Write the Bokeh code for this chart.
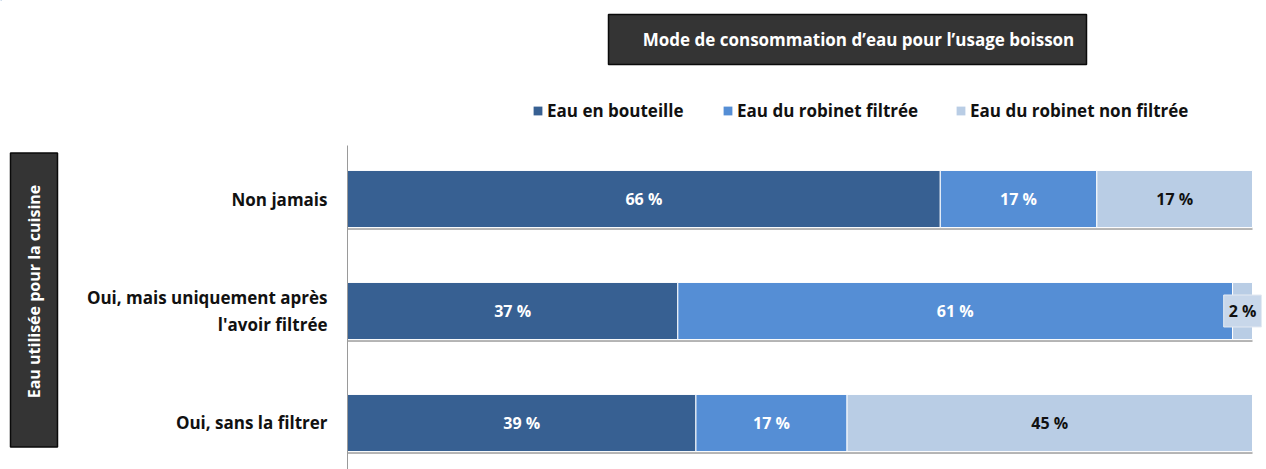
from bokeh.plotting import figure
from bokeh.layouts import column, row
from bokeh.models import (ColumnDataSource, Range1d, FixedTicker, LabelSet, Label,
                          Legend, LegendItem)
from bokeh.core.properties import value
from bokeh.embed import file_html
from bokeh.resources import INLINE
import math

# ---- data ----
categories = ["Non jamais", "Oui, mais uniquement après\nl'avoir filtrée", "Oui, sans la filtrer"]
series_names = ["Eau en bouteille", "Eau du robinet filtrée", "Eau du robinet non filtrée"]
bouteille = [65.5, 36.5, 38.5]
filtree = [17.3, 61.3, 16.7]
non_filtree = [17.2, 2.2, 44.8]
bouteille_lbl = ["66 %", "37 %", "39 %"]
filtree_lbl = ["17 %", "61 %", "17 %"]
non_filtree_lbl = ["17 %", "2 %", "45 %"]
title_text = "Mode de consommation d\u2019eau pour l\u2019usage boisson"
side_text = "Eau utilisée pour la cuisine"

colors = ["#376092", "#558ED5", "#B9CDE5"]
label_colors = ["white", "white", "#111111"]
FONT = "Open Sans"
BOX = "#343434"

ypos = [3, 2, 1]

W, H = 1266, 469
TOP_H = 125
LEFT_W = 70

# ---------------- top strip: title box + legend ----------------
top = figure(width=W, height=TOP_H, output_backend="svg", toolbar_location=None,
             x_range=Range1d(0, W), y_range=Range1d(TOP_H, 0),
             x_axis_location=None, y_axis_location=None,
             min_border=0, min_border_left=0, min_border_right=0,
             min_border_top=0, min_border_bottom=0)
top.outline_line_color = None
top.xgrid.visible = False
top.ygrid.visible = False
top.quad(left=[608], right=[1086], top=[14], bottom=[64],
         fill_color=BOX, line_color="#0A0A0A", line_width=1.5)
top.text(x=[858], y=[39], text=[title_text], text_align="center", text_baseline="middle",
         text_color="white", text_font=value(FONT), text_font_style="bold",
         text_font_size="17px")

# legend-only glyphs (placed outside the visible range)
dummy = []
for i in range(3):
    dummy.append(top.hbar(y=[-1000], left=[0], right=[1], height=1, fill_color=colors[i],
                          line_color=None))
for i, (x0, name) in enumerate(zip([532, 722, 955], series_names)):
    lg = Legend(items=[LegendItem(label=name, renderers=[dummy[i]])],
                location=(x0, 3), orientation="horizontal",
                glyph_width=11, glyph_height=11, label_standoff=4,
                padding=0, margin=0, border_line_color=None, background_fill_alpha=0,
                label_text_font=FONT, label_text_font_style="bold",
                label_text_font_size="17px", label_text_color="#111111")
    top.add_layout(lg)

# ---------------- left strip: side box ----------------
LH = H - TOP_H
left_fig = figure(width=LEFT_W, height=LH, output_backend="svg", toolbar_location=None,
                  x_range=Range1d(0, LEFT_W), y_range=Range1d(LH, 0),
                  x_axis_location=None, y_axis_location=None,
                  min_border=0, min_border_left=0, min_border_right=0,
                  min_border_top=0, min_border_bottom=0)
left_fig.outline_line_color = None
left_fig.xgrid.visible = False
left_fig.ygrid.visible = False
left_fig.quad(left=[10], right=[57], top=[8], bottom=[320],
              fill_color=BOX, line_color="#0A0A0A", line_width=1.5)
left_fig.text(x=[33.5], y=[155], text=[side_text], angle=math.pi / 2,
              text_align="center", text_baseline="middle", text_color="white",
              text_font=value(FONT), text_font_style="bold", text_font_size="16px")

# ---------------- main chart ----------------
MW = W - LEFT_W
frame_left = 347 - LEFT_W
p = figure(width=MW, height=LH, output_backend="svg", toolbar_location=None,
           x_range=Range1d(0, 100 * (W - 347) / 905), y_range=Range1d(0.5848, 3.4777),
           x_axis_location=None, min_border_left=frame_left, min_border_right=0,
           min_border_top=145 - TOP_H, min_border_bottom=0)
p.outline_line_color = None
p.xgrid.visible = False
p.ygrid.visible = False

series = [bouteille, filtree, non_filtree]
labels = [bouteille_lbl, filtree_lbl, non_filtree_lbl]
BAR_H = 0.51

# soft shadow under each full bar
totals = [a + b + c for a, b, c in zip(bouteille, filtree, non_filtree)]
p.hbar(y=[y - 0.022 for y in ypos], left=0, right=totals, height=BAR_H,
       fill_color="#B4B4B4", line_color=None)

left = [0.0, 0.0, 0.0]
for i, (vals, lbls) in enumerate(zip(series, labels)):
    right = [l + v for l, v in zip(left, vals)]
    mid = [(l + r) / 2 for l, r in zip(left, right)]
    src = ColumnDataSource(dict(y=ypos, left=left, right=right, mid=mid, lbl=lbls, v=vals))
    p.hbar(y="y", left="left", right="right", height=BAR_H, source=src,
           fill_color=colors[i], line_color="white", line_width=1)
    big = ColumnDataSource(dict(y=[y for y, v in zip(ypos, vals) if v >= 5],
                                x=[m for m, v in zip(mid, vals) if v >= 5],
                                t=[t for t, v in zip(lbls, vals) if v >= 5]))
    p.add_layout(LabelSet(x="x", y="y", text="t", source=big, text_align="center",
                          text_baseline="middle", text_color=label_colors[i],
                          text_font=value(FONT), text_font_style="bold",
                          text_font_size="16px"))
    for y, m, t, v in zip(ypos, mid, lbls, vals):
        if v < 5:
            p.add_layout(Label(x=m, y=y, text=t, text_align="center",
                               text_baseline="middle", text_color=label_colors[i],
                               text_font=FONT, text_font_style="bold", text_font_size="16px",
                               background_fill_color="#C8D7EA", border_line_color="#E4EAF2",
                               padding=5))
    left = right

p.yaxis.ticker = FixedTicker(ticks=ypos)
p.yaxis.major_label_overrides = {y: c for y, c in zip(ypos, categories)}
p.yaxis.major_tick_line_color = None
p.yaxis.minor_tick_line_color = None
p.yaxis.major_tick_out = 0
p.yaxis.major_tick_in = 0
p.yaxis.axis_line_color = "#9A9A9A"
p.yaxis.major_label_standoff = 20
p.yaxis.major_label_text_font = FONT
p.yaxis.major_label_text_font_style = "bold"
p.yaxis.major_label_text_font_size = "17px"
p.yaxis.major_label_text_color = "#111111"

layout = column(top, row(left_fig, p, spacing=0), spacing=0)
open("out.html", "w").write(file_html(layout, INLINE))
